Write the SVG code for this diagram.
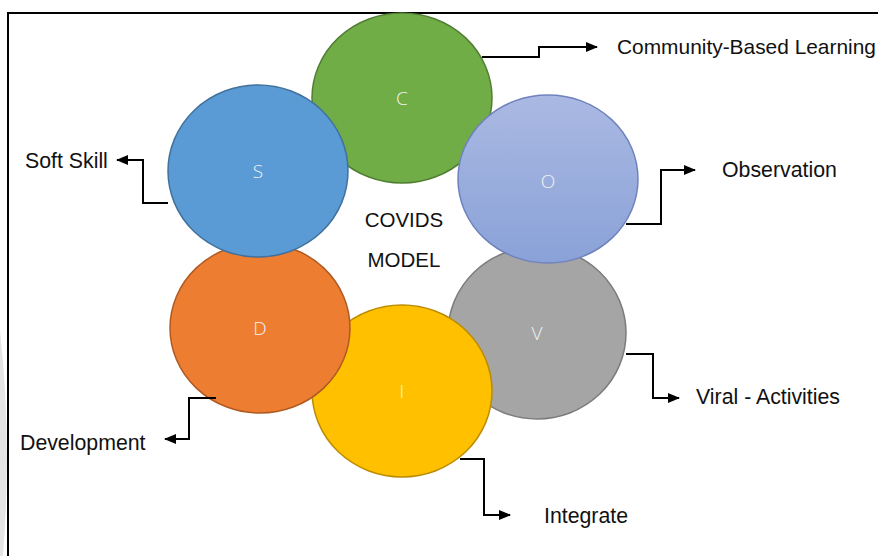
<svg xmlns="http://www.w3.org/2000/svg" width="878" height="556" viewBox="0 0 878 556">
<style>
.lbl{font-family:"Liberation Sans",Arial,sans-serif;font-size:21.3px;fill:#111}
.ltr{font-family:"Open Sans","Liberation Sans",Arial,sans-serif;font-size:19px;fill:#f2f2f2;text-anchor:middle;dominant-baseline:central;font-weight:300}
.ctr{font-family:"Liberation Sans",Arial,sans-serif;font-size:20.5px;fill:#111;text-anchor:middle}
.con path{fill:none;stroke:#000;stroke-width:2;marker-end:url(#ah)}
.node ellipse{stroke-width:1.5}
</style>
<defs>
<marker id="ah" viewBox="0 0 12 10" refX="11" refY="5" markerWidth="12" markerHeight="10" markerUnits="userSpaceOnUse" orient="auto">
<path d="M0,0 L12,5 L0,10 Z" fill="#000"/>
</marker>
<linearGradient id="og" x1="0" y1="0" x2="0" y2="1">
<stop offset="0" stop-color="#aab9e2"/>
<stop offset="1" stop-color="#8aa2d8"/>
</linearGradient>
</defs>
<rect width="878" height="556" fill="#fff"/>
<path d="M0,330 Q12,440 3,556 L0,556 Z" fill="#e4e4e4"/>
<path d="M8,560 L8,13 L882,13" fill="none" stroke="#000" stroke-width="2"/>
<g id="node-C" class="node"><ellipse cx="402" cy="98" rx="90" ry="85" fill="#70ad47" stroke="#507e32"/><text class="ltr" x="402" y="98">C</text></g>
<g id="node-V" class="node"><ellipse cx="537" cy="333" rx="89" ry="86" fill="#a5a5a5" stroke="#7c7c7c"/><text class="ltr" x="537" y="333">V</text></g>
<g id="node-I" class="node"><ellipse cx="402" cy="391" rx="90" ry="86" fill="#ffc000" stroke="#bc8c00"/><text class="ltr" x="402" y="391">I</text></g>
<g id="node-D" class="node"><ellipse cx="260" cy="328" rx="90" ry="85" fill="#ed7d31" stroke="#ae5a21"/><text class="ltr" x="260" y="328">D</text></g>
<g id="node-S" class="node"><ellipse cx="258" cy="171" rx="90" ry="86" fill="#5b9bd5" stroke="#41719c"/><text class="ltr" x="258" y="171">S</text></g>
<g id="node-O" class="node"><ellipse cx="548" cy="179" rx="90" ry="84" fill="url(#og)" stroke="#6f82bd"/><text class="ltr" x="548" y="181">O</text></g>
<g id="center"><text class="ctr" x="404" y="227">COVIDS</text><text class="ctr" x="404" y="267">MODEL</text></g>
<g id="connectors" class="con">
<path d="M482,57 H539 V47 H597"/>
<path d="M626,224 H661 V170 H695"/>
<path d="M168,203 H143 V160 H117"/>
<path d="M216,398 H189 V439 H165"/>
<path d="M626,354 H653 V398 H679"/>
<path d="M460,459 H484 V515 H510"/>
</g>
<g id="labels">
<text class="lbl" x="617" y="54" style="font-size:20.9px">Community-Based Learning</text>
<text class="lbl" x="722" y="177">Observation</text>
<text class="lbl" x="25" y="168">Soft Skill</text>
<text class="lbl" x="20" y="450">Development</text>
<text class="lbl" x="696" y="404">Viral - Activities</text>
<text class="lbl" x="544" y="523">Integrate</text>
</g>
</svg>
